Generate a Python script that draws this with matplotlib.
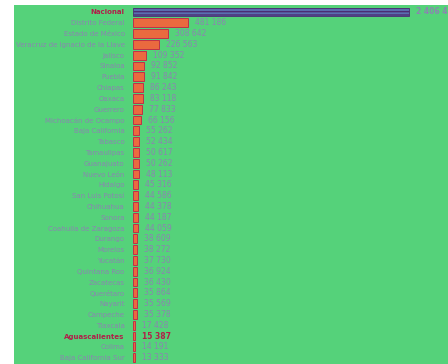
import matplotlib.pyplot as plt
from matplotlib.patches import Rectangle

estados = ["Nacional", "Distrito Federal", "Estado de México",
           "Veracruz de Ignacio de la Llave", "Jalisco", "Sinaloa", "Puebla",
           "Chiapas", "Oaxaca", "Guerrero", "Michoacán de Ocampo",
           "Baja California", "Tabasco", "Tamaulipas", "Guanajuato",
           "Nuevo León", "Hidalgo", "San Luis Potosí", "Chihuahua", "Sonora",
           "Coahuila de Zaragoza", "Durango", "Morelos", "Yucatán",
           "Quintana Roo", "Zacatecas", "Querétaro", "Nayarit", "Campeche",
           "Tlaxcala", "Aguascalientes", "Colima", "Baja California Sur"]
valores = [2406468, 481186, 308642, 226563, 109352, 92852, 91842,
           86243, 83118, 77833, 66156, 55262, 52434, 50617, 50262,
           48113, 45316, 44586, 44378, 44187, 44059, 38609, 38272, 37730,
           36924, 36430, 35864, 35569, 35378, 17428, 15387, 14191, 13333]
destacados = ["Nacional", "Aguascalientes"]

W, H = 448, 364
fig = plt.figure(figsize=(W / 100, H / 100), dpi=100, facecolor="white")
fondo = Rectangle((14 / W, 0), 1, (H - 5) / H, transform=fig.transFigure,
                  facecolor="#55d27a", edgecolor="none", zorder=-10)
fig.patches.append(fondo)

ax = fig.add_axes([133 / W, 0, 1 - 133 / W, (H - 5) / H])
ax.set_zorder(1)
ax.set_facecolor("none")

paso = 10.8
ax.set_ylim((H - 12) / paso, -(12 - 5) / paso)
ax.set_xlim(0, valores[0] * (W - 133) / (409 - 133))

pos = list(range(len(estados)))
for i, (e, v) in enumerate(zip(estados, valores)):
    if e == "Nacional":
        ax.barh(i, v, height=0.8, color="#5a6fb0", edgecolor="#4b2d73",
                hatch="-----", linewidth=0.6)
    else:
        ax.barh(i, v, height=0.8, color="#ea6a3f", edgecolor="#c0304a",
                linewidth=0.7)
    txt = f"{v:,}".replace(",", " ")
    bold = e in destacados
    col = "#b0204a" if e == "Aguascalientes" else "#8a86b0"
    ax.annotate(txt, (v, i), xytext=(7, 0), textcoords="offset pixels",
                va="center", ha="left", fontsize=5.5,
                fontweight="bold" if bold else "normal", color=col,
                annotation_clip=False)

ax.set_yticks(pos)
ax.set_yticklabels(estados, fontsize=5.0)
for lab in ax.get_yticklabels():
    if lab.get_text() in destacados:
        lab.set_fontweight("bold")
        lab.set_color("#b0204a")
    else:
        lab.set_color("#8a86b0")
ax.tick_params(axis="y", length=0, pad=6)
ax.set_xticks([])
for s in ax.spines.values():
    s.set_visible(False)

fig.savefig("out.png", dpi=100)
